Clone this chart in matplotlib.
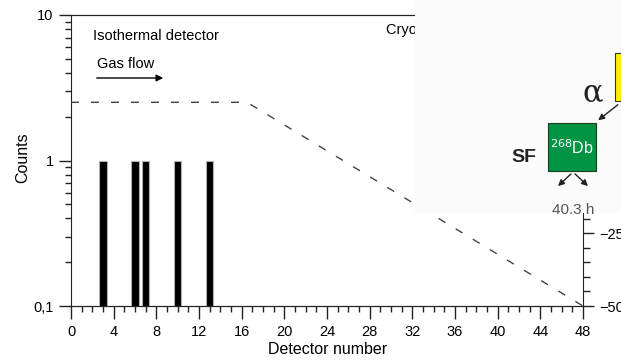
import matplotlib.pyplot as plt
import matplotlib.ticker as mticker
from matplotlib.patches import Rectangle, FancyArrowPatch
import numpy as np

plt.rcParams['font.family'] = ['Liberation Sans', 'DejaVu Sans']

# detector hits
detectors = [3, 6, 7, 10, 13]
counts = [1, 1, 1, 1, 1]

# temperature profile along the detector array (right axis, deg C)
profile_det = [0, 16.5, 48]
profile_temp = [20, 20, -50]

fig = plt.figure(figsize=(6.21, 3.61), dpi=100)
ax = fig.add_axes([71/621, 1-306/361, 512/621, 291/361])

ax.set_yscale('log')
ax.set_ylim(0.1, 10)
ax.set_xlim(0, 48)
ax.bar(detectors, np.array(counts) - 0.1, bottom=0.1, width=0.7,
       color='black', edgecolor='#b0b0b0', linewidth=0.8, zorder=3)

ax.set_xticks(np.arange(0, 49, 4))
ax.xaxis.set_minor_locator(mticker.MultipleLocator(1))
ax.set_yticks([0.1, 1, 10])
ax.set_yticklabels(['0,1', '1', '10'])
ax.yaxis.set_minor_locator(mticker.LogLocator(subs=np.arange(2, 10)))
ax.yaxis.set_minor_formatter(mticker.NullFormatter())
ax.tick_params(which='major', length=9, width=1, labelsize=10.5, color='#222222')
ax.tick_params(which='minor', length=4.5, width=1, color='#222222')
ax.tick_params(axis='x', pad=5)
ax.set_xlabel('Detector number', fontsize=11.5)
ax.set_ylabel('Counts', fontsize=11.5)
ax.xaxis.set_label_coords((328 - 71) / 512, (306 - 342) / 291)
ax.yaxis.set_label_coords((30 - 71) / 512, (306 - 158) / 291)
for s in ax.spines.values():
    s.set_color('#222222')
ax.spines['right'].set_visible(False)

ax2 = ax.twinx()
ax2.set_ylim(-50, 50)
ax2.plot(profile_det, profile_temp, color='#444444', lw=1.0,
         dashes=(5.8, 8.6))
ax2.set_yticks([-50, -25, 0, 25, 50])
ax2.yaxis.set_minor_locator(mticker.MultipleLocator(5))
ax2.tick_params(which='major', length=8, width=1, labelsize=10.5, color='#222222')
ax2.tick_params(which='minor', length=5, width=1, color='#222222')
for s in ax2.spines.values():
    s.set_color('#222222')
ax2.spines['left'].set_visible(False)

ax.text((93 - 71) / 512, (306 - 36) / 291, 'Isothermal detector',
        transform=ax.transAxes, fontsize=10.5, va='center', ha='left')
ax.text((97 - 71) / 512, (306 - 64) / 291, 'Gas flow', transform=ax.transAxes,
        fontsize=10.5, va='center', ha='left')
ax.annotate('', xy=((166 - 71) / 512, (306 - 78) / 291),
            xytext=((94 - 71) / 512, (306 - 78) / 291),
            xycoords='axes fraction',
            arrowprops=dict(arrowstyle='-|>', color='black', lw=1.0,
                            mutation_scale=10))
ax.text((386 - 71) / 512, (306 - 30) / 291, 'Cryogenic detector', transform=ax.transAxes,
        fontsize=10.5, va='center', ha='left')

# overlay of the decay chain panel
fw, fh = 621, 361
def fx(px):
    return px / fw
def fy(py):
    return 1 - py / fh

fig.add_artist(Rectangle((fx(415), fy(213)), fx(206) + 0.01, 213/fh + 0.01,
                         transform=fig.transFigure, facecolor='#fbfbfb',
                         edgecolor='none', zorder=10))
fig.add_artist(Rectangle((fx(548), fy(171)), 48/fw, 48/fh,
                         transform=fig.transFigure, facecolor='#009444',
                         edgecolor='#1a3a1a', lw=0.8, zorder=11))
fig.add_artist(Rectangle((fx(615), fy(101)), 10/fw, 48/fh,
                         transform=fig.transFigure, facecolor='#fff200',
                         edgecolor='#333333', lw=0.8, zorder=11))
fig.text(fx(572), fy(148), r'$^{268}$Db', color='white', fontsize=11.5,
         ha='center', va='center', zorder=12)
fig.text(fx(524), fy(157), 'SF', color='#222222', fontsize=14, fontweight='bold',
         ha='center', va='center', zorder=12)
fig.text(fx(593), fy(93), '\u03b1', color='#222222', fontsize=22,
         family='DejaVu Serif', ha='center', va='center', zorder=12)
fig.text(fx(573), fy(210), '40.3 h', color='#555555', fontsize=11,
         ha='center', va='center', zorder=12)
for x0, y0, x1, y1 in [(620, 103, 596, 122), (573, 172, 556, 188), (573, 172, 590, 188)]:
    fig.add_artist(FancyArrowPatch((fx(x0), fy(y0)), (fx(x1), fy(y1)),
                                   transform=fig.transFigure, arrowstyle='-|>',
                                   mutation_scale=9, color='#222222', lw=1.0,
                                   zorder=12))

fig.savefig('out.png', dpi=100)
